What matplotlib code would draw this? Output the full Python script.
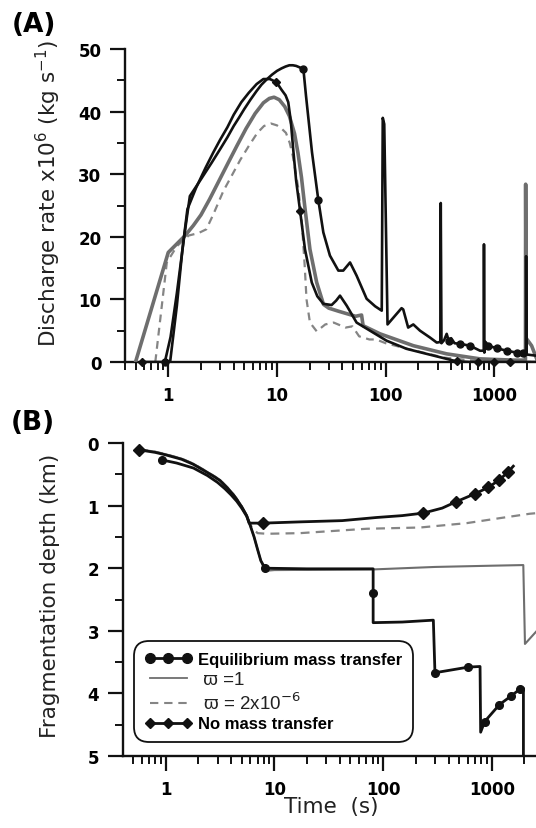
import numpy as np
import matplotlib
matplotlib.use("Agg")
import matplotlib.pyplot as plt
from matplotlib.lines import Line2D
from matplotlib.ticker import LogLocator, NullFormatter, MultipleLocator, FixedLocator, FixedFormatter

plt.rcParams['font.family'] = ['DejaVu Sans']
plt.rcParams['mathtext.fontset'] = 'dejavusans'

# ---------------- Panel A: discharge rate (x10^6 kg/s) ----------------
eq_a_t = [0.93, 1.05, 1.2, 1.4, 1.58, 2.0, 2.5, 3.0, 3.5, 4.0, 4.5, 5.0, 5.7, 6.5, 7.2, 8.0, 9.0,
          10, 11, 12, 13, 14, 15, 16, 17.5,
          18.5, 21, 24, 26.7, 30.7, 36.7, 40.7, 47, 54, 66.8, 80, 92, 94, 97, 104, 122, 140, 145,
          161, 179.5, 207, 256, 295, 318, 321, 326, 345, 364, 380, 400, 430, 483, 597, 738, 798,
          802, 808, 830, 879, 1050, 1297, 1604, 1845, 1950, 1958, 1975, 2450]
eq_a_v = [0, 4, 11, 20, 26.5, 29.2, 31.8, 34.0, 35.9, 37.7, 39.1, 40.4, 41.9, 43.3, 44.3, 45.1, 45.9,
          46.5, 46.9, 47.2, 47.4, 47.4, 47.3, 47.1, 46.8,
          42.5, 33.5, 25.9, 20.7, 17.0, 14.6, 14.6, 15.9, 13.8, 10.1, 8.9, 8.2, 39, 38, 6.0, 7.4, 8.6, 8.4,
          5.5, 6.0, 5.0, 3.9, 3.1, 3.2, 25.4, 3.0, 3.5, 4.5, 3.4, 3.8, 3.0, 2.9, 2.6, 1.8, 1.8,
          18.8, 1.5, 3.2, 2.6, 2.2, 1.8, 1.5, 1.4, 1.3, 16.9, 1.2, 1.0]
eq_a_mark_t = [0.93, 17.5, 24, 380, 483, 597, 879, 1050, 1297, 1604, 1845]
eq_a_mark_v = [0, 46.8, 25.9, 3.4, 2.9, 2.6, 2.6, 2.2, 1.8, 1.5, 1.4]

nomt_a_t = [0.57, 1.04, 1.2, 1.35, 1.5, 1.8, 2.2, 2.6, 3.0, 3.5, 4.0, 4.7, 5.5, 6.5, 7.5, 8.6,
            9.9, 11, 12, 12.7, 13.4, 14.1, 15,
            16.3, 18.1, 20.9, 23.5, 26.7, 31.8, 35, 38, 43.8, 54, 71.8, 102, 156, 238, 364, 450,
            600, 2450]
nomt_a_v = [0, 0, 9, 18, 24.4, 27.8, 31, 33.5, 35.5, 37.5, 39.5, 41.5, 43.0, 44.4, 45.2, 45.2,
            44.7, 43.5, 42.6, 41.5, 38.5, 34.0, 29,
            24.2, 18.0, 12.7, 10.5, 9.3, 9.1, 9.8, 10.6, 9.0, 6.3, 5.0, 3.4, 2.1, 1.3, 0.5, 0.1,
            0, 0]
nomt_a_mark_t = [0.57, 9.9, 16.3, 450, 700, 1000, 1400]
nomt_a_mark_v = [0, 44.7, 24.2, 0.1, 0, 0, 0]

w1_a_t = [0.5, 1.0, 1.43, 1.7, 2.0, 2.4, 3.0, 3.6, 4.3, 5.2, 6.3, 7.5, 8.5, 9.4, 10.5, 11.8, 13.0,
          14.5, 15.6, 16.8, 18.0, 20.1, 23.2, 26.8, 30, 37, 53, 56, 60, 62, 88.7, 180, 364, 738,
          1494, 1930, 1939, 1960, 2200, 2450]
w1_a_v = [0, 17.5, 20.2, 21.8, 23.5, 26.0, 29.3, 32.0, 34.6, 37.3, 39.7, 41.4, 42.1, 42.3, 41.9,
          40.8, 39.3, 36.5, 33.4, 29.5, 24.9, 18.0, 12.7, 9.2, 8.6, 8.1, 7.3, 7.4, 7.5, 5.8, 4.5,
          2.6, 1.3, 0.5, 0.3, 0.3, 28.4, 3.8, 2.6, 0.5]

w2_a_t = [0.76, 0.97, 1.2, 1.54, 1.9, 2.24, 2.6, 3.21, 3.9, 4.6, 5.5, 6.6, 7.6, 8.8, 10, 11, 12.1,
          13.1, 14, 15.6, 16.8, 18, 18.7, 20.1, 23.2, 27.8, 33.2, 42.8, 49.4, 57, 70.8, 81.7, 100,
          168, 345, 708, 1200, 2450]
w2_a_v = [0, 15.9, 18.5, 20.2, 20.6, 21.2, 23.6, 27.3, 30.0, 32.3, 34.5, 36.6, 37.7, 38.1, 37.8,
          37.3, 36.6, 35.0, 32.9, 28.1, 23.3, 15.3, 10, 6.3, 4.9, 6.0, 6.3, 5.5, 5.7, 4.1, 3.6,
          3.6, 3.0, 2.0, 0.7, 0.15, 0.05, 0]

# ---------------- Panel B: fragmentation depth (km) ----------------
eq_b_t = [0.92, 1.26, 1.8, 2.42, 3.0, 3.5, 4.0, 4.5, 5.0, 5.56, 6.0, 6.5, 7.0, 7.5, 8.2, 20, 50,
          81, 81, 81, 150, 290, 300, 608, 780, 790, 860, 1175, 1510, 1820, 1955, 1955]
eq_b_d = [0.27, 0.32, 0.4, 0.52, 0.63, 0.73, 0.83, 0.93, 1.04, 1.17, 1.32, 1.5, 1.7, 1.88, 2.0,
          2.01, 2.01, 2.01, 2.40, 2.87, 2.86, 2.83, 3.67, 3.58, 3.57, 4.62, 4.45, 4.18, 4.04,
          3.93, 3.92, 5.0]
eq_b_mark_t = [0.92, 8.2, 81, 300, 608, 860, 1175, 1510, 1820]
eq_b_mark_d = [0.27, 2.0, 2.40, 3.67, 3.58, 4.45, 4.18, 4.04, 3.93]

nomt_b_t = [0.57, 0.8, 1.0, 1.4, 1.79, 2.3, 2.8, 3.16, 3.7, 4.2, 4.5, 5.0, 5.56, 5.85, 7.9, 17.2,
            42, 87, 150, 234, 350, 468, 702, 929, 1172, 1419, 1578]
nomt_b_d = [0.11, 0.15, 0.19, 0.26, 0.34, 0.45, 0.54, 0.6, 0.72, 0.83, 0.9, 1.02, 1.16, 1.28,
            1.28, 1.26, 1.24, 1.19, 1.16, 1.12, 1.04, 0.94, 0.81, 0.71, 0.59, 0.46, 0.37]
nomt_b_mark_t = [0.57, 7.9, 234, 468, 702, 929, 1172, 1419]
nomt_b_mark_d = [0.11, 1.28, 1.12, 0.94, 0.81, 0.71, 0.59, 0.46]

w1_b_t = [0.57, 0.8, 1.0, 1.4, 1.79, 2.3, 2.8, 3.16, 3.7, 4.2, 4.5, 5.0, 5.56, 6.0, 6.5, 7.0,
          7.5, 8.0, 8.5, 10, 80, 300, 1000, 1950, 2020, 2600]
w1_b_d = [0.1, 0.14, 0.18, 0.25, 0.33, 0.44, 0.53, 0.59, 0.71, 0.82, 0.89, 1.01, 1.16, 1.32,
          1.5, 1.7, 1.88, 2.0, 2.04, 2.03, 2.02, 1.98, 1.96, 1.95, 3.21, 3.0]

w2_b_t = [0.57, 0.8, 1.0, 1.4, 1.79, 2.3, 2.8, 3.16, 3.7, 4.2, 4.5, 5.0, 5.56, 6.2, 7.0, 8.5,
          17.2, 70.6, 219, 588, 1189, 2240, 2600]
w2_b_d = [0.1, 0.14, 0.18, 0.25, 0.33, 0.44, 0.53, 0.59, 0.71, 0.82, 0.89, 1.01, 1.16, 1.35,
          1.44, 1.45, 1.44, 1.37, 1.35, 1.28, 1.20, 1.13, 1.12]

BLACK = '#111111'
GRAY = '#6e6e6e'
DGRAY = '#858585'

fig = plt.figure(figsize=(5.36, 8.29), dpi=100)
W, H = 536.0, 829.0
axA = fig.add_axes([125 / W, (H - 363) / H, (W - 125) / W, 313 / H])
axB = fig.add_axes([122.7 / W, (H - 757) / H, (W - 122.7) / W, 313 / H])


def style_axis(ax):
    ax.set_xscale('log')
    for s in ['top', 'right']:
        ax.spines[s].set_visible(False)
    for s in ['left', 'bottom']:
        ax.spines[s].set_linewidth(1.7)
        ax.spines[s].set_color(BLACK)
    ax.xaxis.set_major_locator(FixedLocator([1, 10, 100, 1000]))
    ax.xaxis.set_major_formatter(FixedFormatter(['1', '10', '100', '1000']))
    ax.xaxis.set_minor_locator(LogLocator(base=10, subs=np.arange(2, 10), numticks=20))
    ax.xaxis.set_minor_formatter(NullFormatter())
    ax.tick_params(which='major', direction='out', length=11, width=1.6, color=BLACK,
                   labelsize=12, pad=6)
    ax.tick_params(which='minor', direction='out', length=6, width=1.4, color=BLACK)
    for lab in ax.get_xticklabels() + ax.get_yticklabels():
        lab.set_fontweight('bold')


# ---- Panel A ----
axA.plot(w2_a_t, w2_a_v, color=DGRAY, lw=1.6, dashes=(3.5, 2.5), zorder=2)
axA.plot(w1_a_t, w1_a_v, color=GRAY, lw=2.6, zorder=3)
axA.plot(nomt_a_t, nomt_a_v, color=BLACK, lw=1.9, zorder=4)
axA.plot(eq_a_t, eq_a_v, color=BLACK, lw=1.9, zorder=5)
axA.plot(eq_a_mark_t, eq_a_mark_v, ls='none', marker='o', ms=5, color=BLACK, zorder=6,
         clip_on=False)
axA.plot(nomt_a_mark_t, nomt_a_mark_v, ls='none', marker='D', ms=4, color=BLACK, zorder=6,
         clip_on=False)
axA.set_xlim(0.400, 2414)
axA.set_ylim(0, 50)
axA.yaxis.set_major_locator(MultipleLocator(10))
axA.yaxis.set_minor_locator(MultipleLocator(5))
style_axis(axA)

# ---- Panel B ----
axB.plot(w2_b_t, w2_b_d, color=DGRAY, lw=1.6, dashes=(4, 2.8), zorder=2)
axB.plot(w1_b_t, w1_b_d, color=GRAY, lw=1.5, zorder=3)
axB.plot(nomt_b_t, nomt_b_d, color=BLACK, lw=2.0, zorder=4)
axB.plot(eq_b_t, eq_b_d, color=BLACK, lw=2.0, zorder=5)
axB.plot(eq_b_mark_t, eq_b_mark_d, ls='none', marker='o', ms=5.5, color=BLACK, zorder=6)
axB.plot(nomt_b_mark_t, nomt_b_mark_d, ls='none', marker='D', ms=6.5, color=BLACK, zorder=6)
axB.set_xlim(0.402, 2552)
axB.set_ylim(5, 0)
axB.yaxis.set_major_locator(MultipleLocator(1))
axB.yaxis.set_minor_locator(MultipleLocator(0.5))
style_axis(axB)

handles = [
    Line2D([], [], color=BLACK, lw=2.0, marker='o', ms=7),
    Line2D([], [], color=GRAY, lw=1.3),
    Line2D([], [], color=DGRAY, lw=1.5, dashes=(4, 2.8)),
    Line2D([], [], color=BLACK, lw=2.0, marker='D', ms=5.5),
]
labels = ['Equilibrium mass transfer', ' ϖ =1', r' ϖ = 2x10$^{-6}$', 'No mass transfer']
leg = axB.legend(handles, labels, loc='lower left', bbox_to_anchor=(0.04, 0.06),
                 borderaxespad=0, numpoints=3, handlelength=2.8, handletextpad=0.4,
                 prop={'family': ['Liberation Sans', 'DejaVu Sans'], 'size': 12},
                 labelspacing=0.22, borderpad=0.35, fancybox=True,
                 frameon=True, edgecolor=BLACK, framealpha=1)
leg.get_frame().set_linewidth(1.3)
leg.get_frame().set_boxstyle('round,pad=0.3,rounding_size=0.9')
for i, txt in enumerate(leg.get_texts()):
    if i in (0, 3):
        txt.set_fontweight('bold')
    else:
        txt.set_color('#222222')
        txt.set_fontsize(13.5)

# ---- text ----
fig.text(34 / W, 1 - 25 / H, '(A)', fontsize=19, fontweight='bold', ha='center', va='center')
fig.text(33 / W, 1 - 423 / H, '(B)', fontsize=19, fontweight='bold', ha='center', va='center')
fig.text(48 / W, 1 - 194 / H, r'Discharge rate x10$^6$ (kg s$^{-1}$)', rotation=90,
         fontsize=15.5, ha='center', va='center', color='#222222')
fig.text(50 / W, 1 - 596 / H, 'Fragmentation depth (km)', rotation=90,
         fontsize=15.5, ha='center', va='center', color='#222222')
fig.text(331 / W, 1 - 807 / H, 'Time  (s)', fontsize=15.5, ha='center', va='center',
         color='#222222')

fig.savefig('out.png', dpi=100)
